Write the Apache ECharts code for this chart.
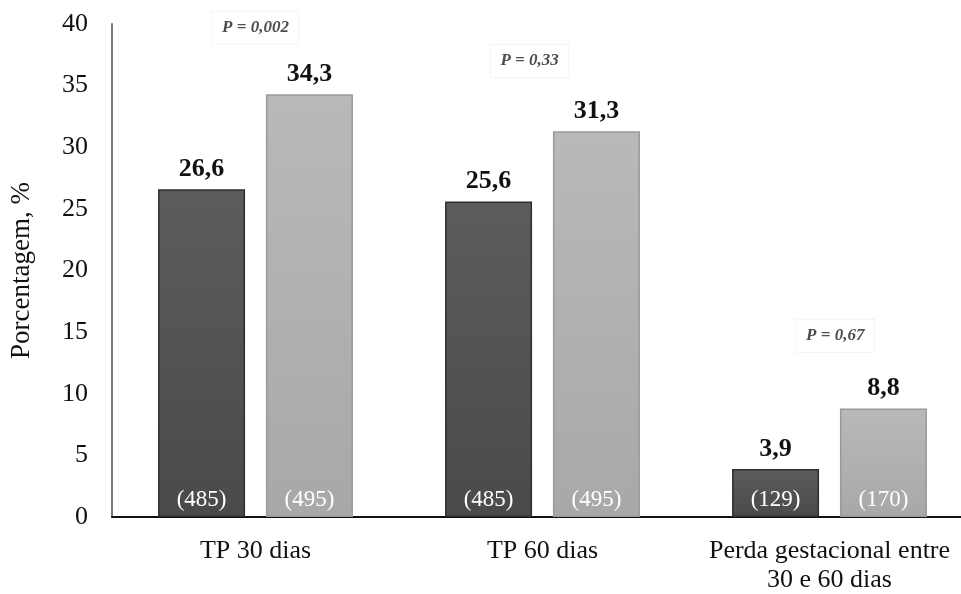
<!DOCTYPE html>
<html><head><meta charset="utf-8">
<script src="https://cdn.jsdelivr.net/npm/echarts@6/dist/echarts.min.js"></script>
<style>html,body{margin:0;padding:0;background:#fff}#c{width:961px;height:594px}</style>
</head><body><div id="c"></div>
<script>
var categories = ['TP 30 dias', 'TP 60 dias', 'Perda gestacional entre\n30 e 60 dias'];
var seriesDark = [26.6, 25.6, 3.9];
var seriesLight = [34.3, 31.3, 8.8];
var countsDark = ['(485)', '(485)', '(129)'];
var countsLight = ['(495)', '(495)', '(170)'];
var pLabels = ['P = 0,002', 'P = 0,33', 'P = 0,67'];
var pLabelX = [0, 0.955, 2.02];
var pLabelY = [39.7, 37.0, 14.7];
var yTicks = [0, 5, 10, 15, 20, 25, 30, 35, 40];

var serif = '"Liberation Serif", "DejaVu Serif", serif';
function fmt(v){ return String(v).replace('.', ','); }

var chart = echarts.init(document.getElementById('c'), null, {renderer:'canvas'});

function barPair(stack, values, counts, top, bottom, border){
  return [
    {
      type: 'bar', stack: stack, barWidth: 87, barGap: '24%',
      data: values,
      itemStyle: {
        color: new echarts.graphic.LinearGradient(0,0,0,1,[{offset:0,color:top},{offset:1,color:bottom}]),
        borderColor: border, borderWidth: 1.5
      },
      label: {
        show: true, position: 'insideBottom', distance: 6,
        formatter: function(p){ return counts[p.dataIndex]; },
        fontFamily: serif, fontSize: 23, color: '#fff'
      }
    },
    {
      type: 'bar', stack: stack, barWidth: 87, barGap: '24%',
      data: values.map(function(){ return 0; }),
      itemStyle: { color: 'transparent', borderWidth: 0 },
      label: {
        show: true, position: 'top', distance: 7,
        formatter: function(p){ return fmt(values[p.dataIndex]); },
        fontFamily: serif, fontSize: 26, fontWeight: 'bold', color: '#111'
      },
      silent: true
    }
  ];
}

var series = []
  .concat(barPair('dark', seriesDark, countsDark, '#5c5c5c', '#4a4a4a', '#2e2e2e'))
  .concat(barPair('light', seriesLight, countsLight, '#b9b9b9', '#a8a8a8', '#999999'));

series.push({
  type: 'scatter', xAxisIndex: 1, symbolSize: 0, silent: true,
  data: pLabelY.map(function(y, i){ return [pLabelX[i], y]; }),
  label: {
    show: true, position: 'inside',
    formatter: function(p){ return pLabels[p.dataIndex]; },
    fontFamily: serif, fontSize: 17, fontStyle: 'italic', fontWeight: 'bold', color: '#222',
    padding: [8, 10], borderColor: '#e4e4e4', borderWidth: 1, borderType: 'dotted'
  },
  z: 10
});

var option = {
  animation: false,
  grid: { left: 112, top: 24, width: 861, bottom: 77, containLabel: false, outerBoundsMode: 'none' },
  xAxis: [{
    type: 'category', data: categories,
    axisLine: { onZero: false, lineStyle: { color: '#111', width: 2 } },
    axisTick: { show: false },
    axisLabel: { interval: 0, hideOverlap: false, fontFamily: serif, fontSize: 26, color: '#111', margin: 20, lineHeight: 29 }
  }, {
    type: 'value', min: -0.5, max: 2.5, show: false
  }],
  yAxis: {
    type: 'value', min: 0, max: 40, interval: 5,
    name: 'Porcentagem, %', nameLocation: 'middle', nameGap: 77,
    nameTextStyle: { fontFamily: serif, fontSize: 27, color: '#111' },
    axisLine: { show: true, onZero: false, lineStyle: { color: '#7a7a7a', width: 2 } },
    axisTick: { show: false },
    splitLine: { show: false },
    axisLabel: { fontFamily: serif, fontSize: 26, color: '#111', margin: 24,
      formatter: function(v){ return yTicks.indexOf(v) >= 0 ? String(v) : ''; } }
  },
  series: series
};
chart.setOption(option);
</script></body></html>
